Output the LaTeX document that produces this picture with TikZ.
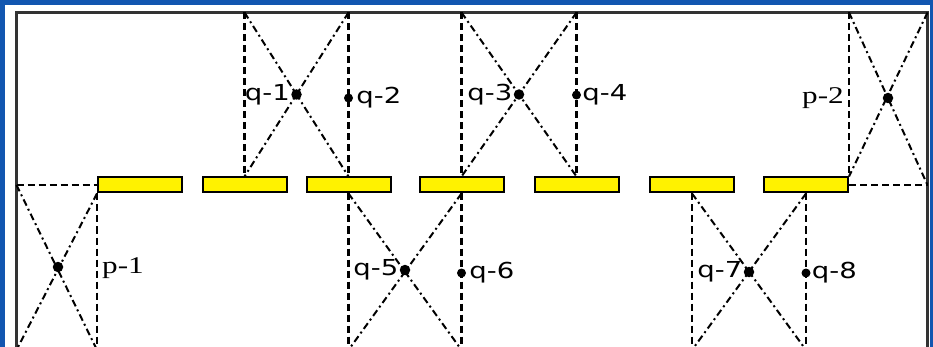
\documentclass[tikz,border=0pt]{standalone}
\usepackage{fontspec}
\usetikzlibrary{positioning,calc}
\newfontfamily\qfont[FakeStretch=1.25]{DejaVu Sans}
\newfontfamily\pfont[FakeStretch=1.3]{Liberation Serif}
\definecolor{frameblue}{RGB}{18,86,176}
\tikzset{
lot/.style={draw=black,fill=yellow,line width=2pt,minimum width=84pt,minimum height=15pt,inner sep=0pt},
bound/.style={black,line width=2.3pt,dash pattern=on 7pt off 4pt},
cross/.style={black,line width=2pt,dash pattern=on 7pt off 3.5pt on 2pt off 3.5pt},
spot/.style={circle,fill=black,minimum size=10.5pt,inner sep=0pt},
smallspot/.style={circle,fill=black,minimum size=9pt,inner sep=0pt},
qlab/.style={font=\qfont\fontsize{22}{22}\selectfont,inner sep=1pt},
plab/.style={font=\pfont\fontsize{24}{24}\selectfont,inner sep=1pt},
outer/.style={draw=black!80,line width=3pt}
}

\begin{document}
\begin{tikzpicture}[x=1pt,y=-1pt]
\useasboundingbox (0,0) rectangle (933,347);
\fill[frameblue] (0,0) rectangle (933,347);
\fill[white] (5,5) rectangle (930,347);
\begin{scope}
\clip (5,5) rectangle (930,346);
\draw[outer] (16.5,12.5) rectangle (927.5,400);
\coordinate (top) at (0,12.5);
\coordinate (bot) at (0,350);
\coordinate (wl) at (16.5,185);
\coordinate (wr) at (927.5,185);
% parking strip
\node[lot] (r1) at (140,185) {};
\node[lot] (r2) at (244.5,185) {};
\node[lot] (r3) at (348.5,185) {};
\node[lot] (r4) at (461.5,185) {};
\node[lot] (r5) at (576.5,185) {};
\node[lot] (r6) at (692,185) {};
\node[lot] (r7) at (806,185) {};
% p-1
\draw[bound] (wl) -- (r1.west);
\draw[bound] (r1.south west) -- (r1.south west |- bot);
\draw[cross] (wl) -- (r1.south west |- bot);
\draw[cross] (r1.south west) -- (wl |- bot);
\node[spot] (p1) at (58,267) {};
\node[plab,anchor=west] (p1l) at (101,268) {p-1};
% q-1, q-2
\draw[bound] (r2 |- top) -- (r2.north);
\draw[bound] (r3 |- top) -- (r3.north);
\draw[cross] (r2 |- top) -- (r3.north);
\draw[cross] (r3 |- top) -- (r2.north);
\node[spot] (q1) at ($(r2 |- top)!0.5!(r3.north)$) {};
\node[smallspot] (q2) at (348.5,98) {};
\node[qlab,left=0pt of q1] {q-1};
\node[qlab,right=2pt of q2] {q-2};
% q-3, q-4
\draw[bound] (r4 |- top) -- (r4.north);
\draw[bound] (r5 |- top) -- (r5.north);
\draw[cross] (r4 |- top) -- (r5.north);
\draw[cross] (r5 |- top) -- (r4.north);
\node[spot] (q3) at ($(r4 |- top)!0.5!(r5.north)$) {};
\node[smallspot] (q4) at (576.5,95) {};
\node[qlab,left=0pt of q3] {q-3};
\node[qlab,right=0pt of q4] {q-4};
% p-2
\draw[bound] (r7.north east |- top) -- (r7.north east);
\draw[bound] (r7.east) -- (wr);
\draw[cross] (r7.north east |- top) -- (wr);
\draw[cross] (wr |- top) -- (r7.north east);
\node[spot] (p2) at (888,98) {};
\node[plab,anchor=east] (p2l) at (845,98) {p-2};
% q-5, q-6
\draw[bound] (r3.south) -- (r3 |- bot);
\draw[bound] (r4.south) -- (r4 |- bot);
\draw[cross] (r3.south) -- (r4 |- bot);
\draw[cross] (r4.south) -- (r3 |- bot);
\node[spot] (q5) at (405,270) {};
\node[smallspot] (q6) at (461.5,273) {};
\node[qlab,left=0pt of q5] {q-5};
\node[qlab,right=2pt of q6] {q-6};
% q-7, q-8
\draw[bound] (r6.south) -- (r6 |- bot);
\draw[bound] (r7.south) -- (r7 |- bot);
\draw[cross] (r6.south) -- (r7 |- bot);
\draw[cross] (r7.south) -- (r6 |- bot);
\node[spot] (q7) at (749,272) {};
\node[smallspot] (q8) at (806,273) {};
\node[qlab,left=0pt of q7] {q-7};
\node[qlab,right=0pt of q8] {q-8};
\end{scope}
\end{tikzpicture}
\end{document}
